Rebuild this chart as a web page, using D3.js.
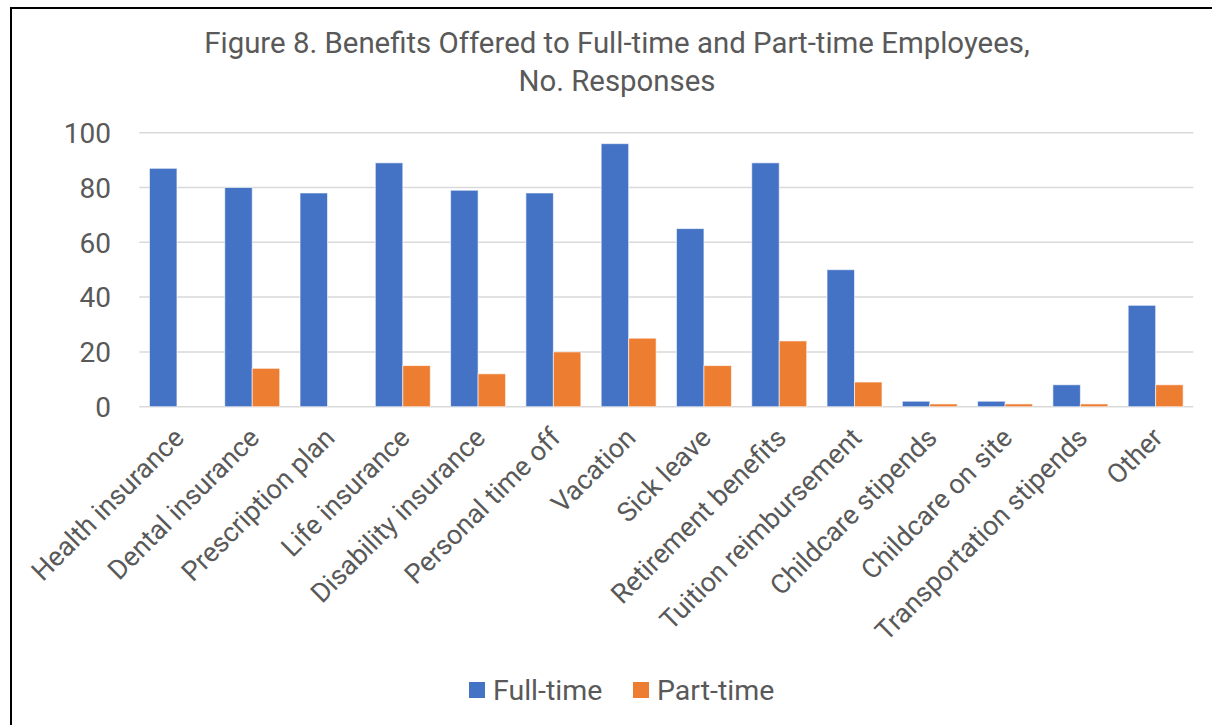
<!DOCTYPE html>
<html>
<head>
<meta charset="utf-8">
<script src="https://cdn.jsdelivr.net/npm/d3@7"></script>
<style>
  html, body { margin: 0; padding: 0; background: #fff; }
  svg { display: block; font-family: Roboto, "Noto Sans", sans-serif; }
</style>
</head>
<body>
<svg id="chart" width="1212" height="725"></svg>
<script>
const categories = ["Health insurance", "Dental insurance", "Prescription plan", "Life insurance",
  "Disability insurance", "Personal time off", "Vacation", "Sick leave", "Retirement benefits",
  "Tuition reimbursement", "Childcare stipends", "Childcare on site", "Transportation stipends", "Other"];
const fullTime = [87, 80, 78, 89, 79, 78, 96, 65, 89, 50, 2, 2, 8, 37];
const partTime = [0, 14, 0, 15, 12, 20, 25, 15, 24, 9, 1, 1, 1, 8];
const seriesNames = ["Full-time", "Part-time"];
const seriesColors = ["#4472C4", "#ED7D31"];
const yTicks = [0, 20, 40, 60, 80, 100];
const titleLines = ["Figure 8. Benefits Offered to Full-time and Part-time Employees,", "No. Responses"];

const svg = d3.select("#chart");
const textColor = "#595959";

// border
svg.append("rect").attr("x", 11).attr("y", 8).attr("width", 1400).attr("height", 900)
  .attr("fill", "#fff").attr("stroke", "#000").attr("stroke-width", 2);

const plotLeft = 139.3, plotRight = 1193.3, plotTop = 132.7, plotBottom = 406.7;

const x0 = d3.scaleBand().domain(categories).range([plotLeft, plotRight])
  .paddingInner(0.27).paddingOuter(0.135);
const x1 = d3.scaleBand().domain(seriesNames).range([0, x0.bandwidth()]).padding(0);
const y = d3.scaleLinear().domain([0, 100]).range([plotBottom, plotTop]);

// gridlines
svg.append("g").selectAll("line").data(yTicks).join("line")
  .attr("x1", plotLeft).attr("x2", plotRight)
  .attr("y1", d => y(d)).attr("y2", d => y(d))
  .attr("stroke", "#d9d9d9").attr("stroke-width", 1.5);

// y axis labels
const yAxis = d3.axisLeft(y).tickValues(yTicks).tickSize(0).tickPadding(0);
const yg = svg.append("g").attr("transform", `translate(111,0)`).call(yAxis);
yg.select(".domain").remove();
yg.selectAll("text").attr("fill", textColor).attr("font-size", 28)
  .attr("font-family", "Roboto").attr("dy", "0.35em");

// bars
const rows = categories.map((c, i) => ({ cat: c, vals: [fullTime[i], partTime[i]] }));
const groups = svg.append("g").selectAll("g").data(rows).join("g")
  .attr("transform", d => `translate(${x0(d.cat)},0)`);
groups.selectAll("rect").data(d => d.vals.map((v, k) => ({ key: seriesNames[k], v, k })))
  .join("rect")
  .attr("x", d => x1(d.key))
  .attr("y", d => y(d.v))
  .attr("width", x1.bandwidth())
  .attr("height", d => y(0) - y(d.v))
  .attr("fill", d => seriesColors[d.k])
  .attr("stroke", "#ffffff").attr("stroke-opacity", 0.6).attr("stroke-width", 1)
  .style("display", d => d.v > 0 ? null : "none");

// x axis labels
const xAxis = d3.axisBottom(x0).tickSize(0).tickPadding(0);
const xg = svg.append("g").attr("transform", `translate(0,${plotBottom})`).call(xAxis);
xg.select(".domain").remove();
xg.selectAll(".tick text")
  .attr("fill", textColor).attr("font-size", 27).attr("font-family", "Roboto")
  .attr("text-anchor", "end")
  .attr("x", 0).attr("y", 0).attr("dy", "0.35em")
  .attr("transform", "translate(2,26) rotate(-45)");

// title
svg.append("g").selectAll("text").data(titleLines).join("text")
  .attr("x", 617).attr("y", (d, i) => 53 + i * 38)
  .attr("text-anchor", "middle").attr("fill", textColor)
  .attr("font-size", 29.4).attr("font-family", "Roboto")
  .text(d => d);

// legend
const legendX = [469, 633];
const lg = svg.append("g").selectAll("g").data(seriesNames).join("g")
  .attr("transform", (d, i) => `translate(${legendX[i]},682)`);
lg.append("rect").attr("width", 16).attr("height", 16).attr("fill", (d, i) => seriesColors[i]);
lg.append("text").attr("x", 24).attr("y", 8).attr("dy", "0.35em")
  .attr("fill", textColor).attr("font-size", 28.5).attr("font-family", "Roboto")
  .text(d => d);
</script>
</body>
</html>
